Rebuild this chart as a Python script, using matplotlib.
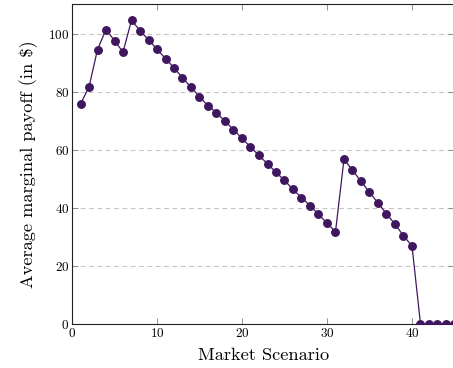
"""Average marginal payoff per market scenario (pgfplots-style line chart)."""
import matplotlib

matplotlib.use("Agg")  # headless rendering
import matplotlib.pyplot as plt

plt.rcParams["font.family"] = "serif"
plt.rcParams["font.serif"] = ["cmr10"]
plt.rcParams["mathtext.fontset"] = "cm"
plt.rcParams["axes.formatter.use_mathtext"] = True

# values
scenarios = list(range(1, 46))
payoff = [
    75.8, 81.7, 94.6, 101.5, 97.7, 93.7, 104.7, 101.1, 98.0, 94.7,
    91.5, 88.3, 84.9, 81.6, 78.4, 75.2, 72.8, 69.9, 67.0, 64.0,
    61.0, 58.1, 55.2, 52.3, 49.5, 46.4, 43.6, 40.8, 37.8, 34.8,
    31.8, 56.8, 53.0, 49.2, 45.4, 41.7, 38.0, 34.4, 30.4, 26.9,
    0, 0, 0, 0, 0,
]
x_ticks = [0, 10, 20, 30, 40]
y_ticks = [0, 20, 40, 60, 80, 100]

line_color = "#40175f"

fig = plt.figure(figsize=(4.53, 3.68), dpi=100)
ax = fig.add_axes([72 / 453, 44 / 368, 382.5 / 453, 320 / 368])

ax.plot(scenarios, payoff, color=line_color, linewidth=0.9,
        marker="o", markersize=5.4, clip_on=True, zorder=3)

ax.set_xlim(0, 45)
ax.set_ylim(0, 110.3)
ax.set_xticks(x_ticks)
ax.set_yticks(y_ticks)

for y in y_ticks[1:]:
    ax.axhline(y, color="#c4c4c4", linewidth=0.75, dashes=(4.5, 3.5), zorder=1)

ax.tick_params(direction="in", length=4.5, width=0.6, color="#808080",
               top=True, right=True, labelsize=9.5, pad=2)
for s in ax.spines.values():
    s.set_linewidth(0.8)
    s.set_color("#202020")

ax.set_xlabel("Market Scenario", fontsize=13.2, labelpad=6)
ax.set_ylabel("Average marginal payoff (in \\$)", fontsize=13.2, labelpad=7)

fig.savefig("out.png", dpi=100)
plt.close(fig)
